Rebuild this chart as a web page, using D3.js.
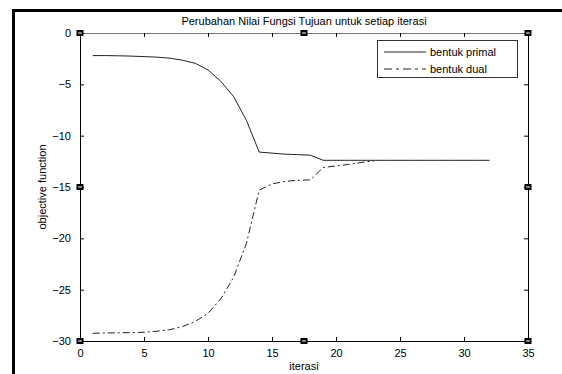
<!DOCTYPE html>
<html>
<head>
<meta charset="utf-8">
<script src="https://cdn.jsdelivr.net/npm/d3@7"></script>
<style>
  html, body { margin: 0; padding: 0; background: #fff; overflow: hidden; }
  svg { display: block; }
  svg text { font-family: "Liberation Sans", Arial, sans-serif; font-size: 11px; fill: #000; }
</style>
</head>
<body>
<svg id="chart" width="562" height="374"></svg>
<script>
// values
const iterPrimal = [1,2,3,4,5,6,7,8,9,10,11,12,13,14,15,16,17,18,19,20,21,22,23,24,25,26,27,28,29,30,31,32];
const primal = [-2.2,-2.2,-2.22,-2.25,-2.3,-2.35,-2.45,-2.65,-2.95,-3.6,-4.7,-6.2,-8.5,-11.6,-11.7,-11.8,-11.85,-11.9,-12.4,-12.4,-12.4,-12.4,-12.4,-12.4,-12.4,-12.4,-12.4,-12.4,-12.4,-12.4,-12.4,-12.4];
const iterDual = [1,2,3,4,5,6,7,8,9,10,11,12,13,14,15,16,17,18,19,20,21,22,23];
const dual = [-29.25,-29.22,-29.2,-29.18,-29.15,-29.05,-28.9,-28.6,-28.1,-27.3,-25.9,-23.8,-20.5,-15.3,-14.7,-14.45,-14.35,-14.3,-13.1,-12.95,-12.8,-12.6,-12.45];
const xTicks = [0,5,10,15,20,25,30,35];
const yTicks = [0,-5,-10,-15,-20,-25,-30];
const seriesNames = ["bentuk primal", "bentuk dual"];

const svg = d3.select("#chart");
const margin = {top: 33, right: 34, bottom: 33, left: 80};
const W = 562, H = 374;
const x0 = margin.left, x1 = W - margin.right;
const y0 = margin.top, y1 = H - margin.bottom;

const x = d3.scaleLinear().domain([0, 35]).range([x0, x1]);
const y = d3.scaleLinear().domain([-30, 0]).range([y1, y0]);

// outer frame (only left/top visible in the crop)
svg.append("line").attr("x1", 13.5).attr("x2", 13.5).attr("y1", 9).attr("y2", H)
  .attr("stroke", "#000").attr("stroke-width", 3);
svg.append("line").attr("x1", 12).attr("x2", W).attr("y1", 10.5).attr("y2", 10.5)
  .attr("stroke", "#000").attr("stroke-width", 3);

// axes
svg.append("g")
  .attr("transform", `translate(0,${y1})`)
  .call(d3.axisBottom(x).tickValues(xTicks).tickSizeInner(-4).tickSizeOuter(0).tickPadding(8));
const axisTop = svg.append("g")
  .attr("transform", `translate(0,${y0})`)
  .call(d3.axisTop(x).tickValues(xTicks).tickSizeInner(-4).tickSizeOuter(0).tickFormat(""));
svg.append("g")
  .attr("transform", `translate(${x0},0)`)
  .call(d3.axisLeft(y).tickValues(yTicks).tickSizeInner(-4).tickSizeOuter(0).tickPadding(9));
svg.append("g")
  .attr("transform", `translate(${x1},0)`)
  .call(d3.axisRight(y).tickValues(yTicks).tickSizeInner(-4).tickSizeOuter(0).tickFormat(""));

svg.selectAll(".domain").attr("stroke", "#000");
axisTop.select(".domain").attr("stroke", "#777");
svg.selectAll(".tick line").attr("stroke", "#000");
svg.selectAll(".tick text").attr("font-size", 11).attr("font-family", "Liberation Sans, Arial, sans-serif");

// lines
const line = d3.line().x(d => x(d[0])).y(d => y(d[1]));
svg.append("path")
  .datum(iterPrimal.map((t, i) => [t, primal[i]]))
  .attr("d", line)
  .attr("fill", "none").attr("stroke", "#222").attr("stroke-width", 1);
svg.append("path")
  .datum(iterDual.map((t, i) => [t, dual[i]]))
  .attr("d", line)
  .attr("fill", "none").attr("stroke", "#222").attr("stroke-width", 1)
  .attr("stroke-dasharray", "7,3,2,3");

// selection handles
const handles = [[0,0],[17.5,0],[35,0],[35,-15],[35,-30],[17.5,-30],[0,-30],[0,-15]];
handles.forEach(h => {
  const cx = x(h[0]), cy = y(h[1]);
  svg.append("rect").attr("x", cx - 3.5).attr("y", cy - 3).attr("width", 7).attr("height", 6).attr("fill", "#000");
  svg.append("rect").attr("x", cx - 2).attr("y", cy - 0.5).attr("width", 4).attr("height", 1).attr("fill", "#fff");
});

// legend
const lg = svg.append("g").attr("transform", "translate(377,40)");
lg.append("rect").attr("x", 0.5).attr("y", 0.5).attr("width", 140).attr("height", 37)
  .attr("fill", "#fff").attr("stroke", "#333");
seriesNames.forEach((name, i) => {
  const ly = 12 + i * 17;
  lg.append("line").attr("x1", 7).attr("x2", 49).attr("y1", ly).attr("y2", ly)
    .attr("stroke", "#222").attr("stroke-dasharray", i === 1 ? "8,4,3,4" : null);
  lg.append("text").attr("x", 53).attr("y", ly + 4).text(name);
});

// title and labels
svg.append("text").attr("x", (x0 + x1) / 2).attr("y", 25).attr("text-anchor", "middle")
  .text("Perubahan Nilai Fungsi Tujuan untuk setiap iterasi");
svg.append("text").attr("x", (x0 + x1) / 2).attr("y", 370).attr("text-anchor", "middle")
  .text("iterasi");
svg.append("text").attr("transform", `translate(46,${(y0 + y1) / 2}) rotate(-90)`)
  .attr("text-anchor", "middle").text("objective function");
</script>
</body>
</html>
